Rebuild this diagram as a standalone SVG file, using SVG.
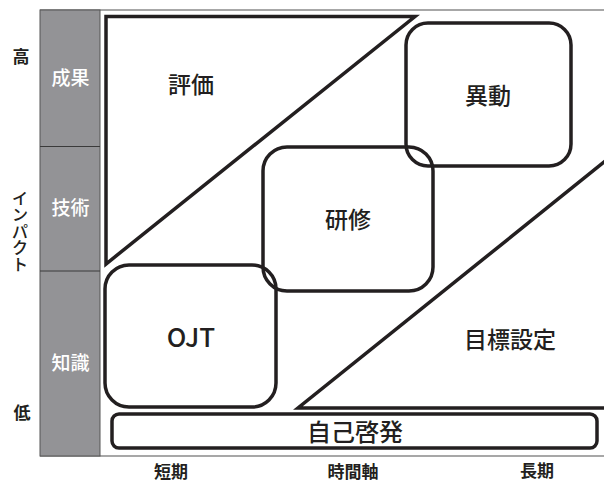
<svg xmlns="http://www.w3.org/2000/svg" width="604" height="483" viewBox="0 0 604 483">
<style>
.ln{fill:none;stroke:#231f20;stroke-width:3.5;stroke-linejoin:miter}
.bx{fill:none;stroke:#231f20;stroke-width:3.5}
.t{font-family:"Noto Sans CJK JP","Noto Sans",sans-serif;fill:#231f20;text-anchor:middle}
.big{font-size:23px;font-weight:500}
.col{font-size:19px;fill:#ffffff;font-weight:500}
.ax{font-size:17px;font-weight:700}
.vt{writing-mode:vertical-rl;text-orientation:upright;text-anchor:start;font-size:16.5px;font-weight:500}
</style>
<rect width="604" height="483" fill="#ffffff"/>
<g id="frame">
<line x1="40" y1="10" x2="604" y2="10" stroke="#8a8a8a" stroke-width="1.5"/>
<line x1="40" y1="456" x2="604" y2="456" stroke="#8a8a8a" stroke-width="1.5"/>
<rect x="40" y="10" width="60" height="446" fill="#939396" stroke="#555555" stroke-width="1"/>
<line x1="40" y1="146.5" x2="100" y2="146.5" stroke="#3a3a3a" stroke-width="1.2"/>
<line x1="40" y1="271" x2="100" y2="271" stroke="#3a3a3a" stroke-width="1.2"/>
</g>
<g id="labels-col">
<text class="t col" x="70.5" y="85">成果</text>
<text class="t col" x="70.5" y="215">技術</text>
<text class="t col" x="70.5" y="370">知識</text>
</g>
<g id="axis-y">
<text class="t ax" x="21" y="63">高</text>
<text class="t ax" x="22" y="419">低</text>
<text class="t vt" x="20" y="190">インパクト</text>
</g>
<g id="axis-x">
<text class="t ax" x="171" y="478">短期</text>
<text class="t ax" x="353" y="478">時間軸</text>
<text class="t ax" x="537" y="477">長期</text>
</g>
<g id="hyouka">
<polygon class="ln" points="106,16.5 415,16.5 106,264"/>
<text class="t big" x="191" y="93">評価</text>
</g>
<g id="mokuhyou">
<polyline class="ln" points="606,160.5 298,408 606,408"/>
<text class="t big" x="510" y="348">目標設定</text>
</g>
<g id="idou">
<rect class="bx" x="406" y="23" width="165" height="143" rx="22"/>
<text class="t big" x="488" y="104">異動</text>
</g>
<g id="kenshu">
<rect class="bx" x="263" y="147" width="170" height="144" rx="24"/>
<text class="t big" x="348" y="228">研修</text>
</g>
<g id="ojt">
<rect class="bx" x="105" y="265" width="171" height="142" rx="24"/>
<text class="t" x="191" y="347" font-size="26" font-weight="500">OJT</text>
</g>
<g id="jikokeihatsu">
<rect class="bx" x="112" y="414" width="485" height="34" rx="7"/>
<text class="t" x="355" y="441" font-size="24" font-weight="500">自己啓発</text>
</g>
<g id="connectors"></g>
</svg>
